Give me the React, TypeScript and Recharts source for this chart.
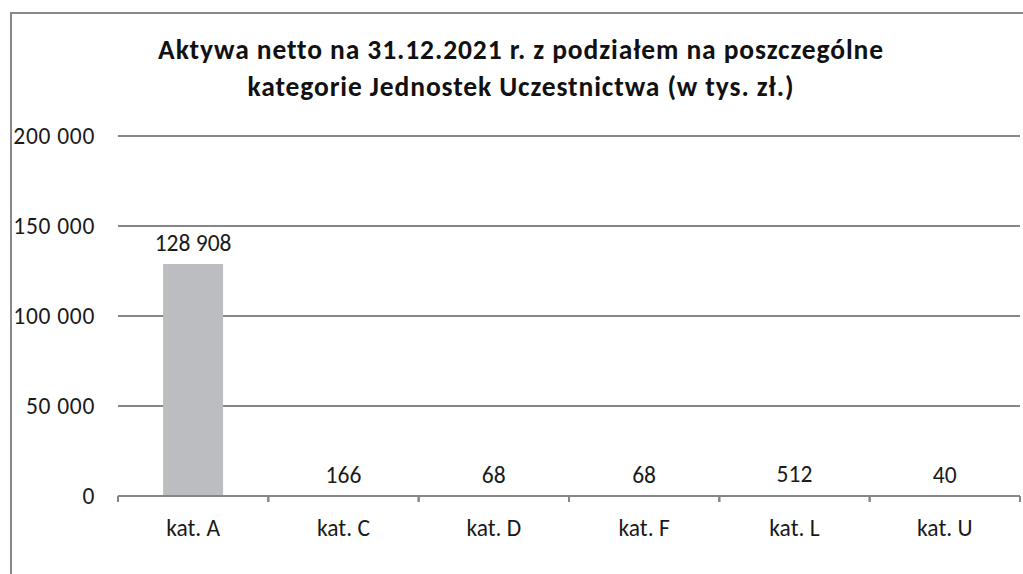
import { BarChart, Bar, XAxis, YAxis, CartesianGrid, LabelList } from 'recharts';

const categories = ['kat. A', 'kat. C', 'kat. D', 'kat. F', 'kat. L', 'kat. U'];
const values = [128908, 166, 68, 68, 512, 40];
const yTicks = [0, 50000, 100000, 150000, 200000];

const data = categories.map((name, i) => ({ name, value: values[i] }));

const W = 1023;
const H = 574;
const PLOT_LEFT = 118;
const PLOT_RIGHT = 1020;
const FONT = 'Carlito, Calibri, Lato, sans-serif';
const AXIS_COLOR = '#868686';
const TEXT_SIZE = 23.5;

const fmt = (v: number) => String(v).replace(/\B(?=(\d{3})+(?!\d))/g, ' ');

const band = (PLOT_RIGHT - PLOT_LEFT) / categories.length;

function XTick(props: any) {
  const { x, y, payload } = props;
  return (
    <g>
      <line x1={x - band / 2} x2={x - band / 2} y1={y - 8} y2={y - 2} stroke={AXIS_COLOR} strokeWidth={2} />
      <line x1={x + band / 2} x2={x + band / 2} y1={y - 8} y2={y - 2} stroke={AXIS_COLOR} strokeWidth={2} />
      <text x={x} y={y + 32} textAnchor="middle" fontSize={TEXT_SIZE} fill="#1a1a1a" fontFamily={FONT}>
        {payload.value}
      </text>
    </g>
  );
}

export default function App() {
  return (
    <div style={{ position: 'absolute', left: 0, top: 0, width: W, height: H, background: '#fff', overflow: 'hidden' }}>
      <div
        style={{
          position: 'absolute',
          left: 10,
          top: 12,
          width: W,
          height: H,
          borderLeft: '2px solid #888',
          borderTop: '2px solid #888',
        }}
      />
      <div
        style={{
          position: 'absolute',
          left: 6,
          top: 31,
          width: 1030,
          textAlign: 'center',
          fontFamily: FONT,
          fontWeight: 'bold',
          fontSize: 27.5,
          letterSpacing: 0.9,
          lineHeight: '37px',
          color: '#111',
        }}
      >
        Aktywa netto na 31.12.2021 r. z podziałem na poszczególne
        <br />
        kategorie Jednostek Uczestnictwa (w tys. zł.)
      </div>
      <BarChart
        width={W}
        height={H}
        data={data}
        margin={{ top: 136, right: W - PLOT_RIGHT, bottom: 38, left: 10 }}
        barCategoryGap="30%"
        style={{ position: 'absolute', left: 0, top: 0 }}
      >
        <CartesianGrid vertical={false} stroke={AXIS_COLOR} strokeWidth={2} />
        <XAxis
          dataKey="name"
          height={40}
          tickLine={false}
          axisLine={{ stroke: AXIS_COLOR, strokeWidth: 2 }}
          tick={<XTick />}
          interval={0}
        />
        <YAxis
          width={PLOT_LEFT - 10}
          domain={[0, 200000]}
          ticks={yTicks}
          tickFormatter={fmt}
          axisLine={false}
          tickLine={false}
          tickSize={6}
          tickMargin={17}
          tick={{ fontSize: TEXT_SIZE, fill: '#1a1a1a', fontFamily: FONT, letterSpacing: 0.7 }}
        />
        <Bar dataKey="value" fill="#bcbdc0" isAnimationActive={false}>
          <LabelList
            dataKey="value"
            position="top"
            offset={13}
            formatter={(v: any) => fmt(Number(v))}
            style={{ fontSize: TEXT_SIZE, fill: '#1a1a1a', fontFamily: FONT }}
          />
        </Bar>
      </BarChart>
    </div>
  );
}
